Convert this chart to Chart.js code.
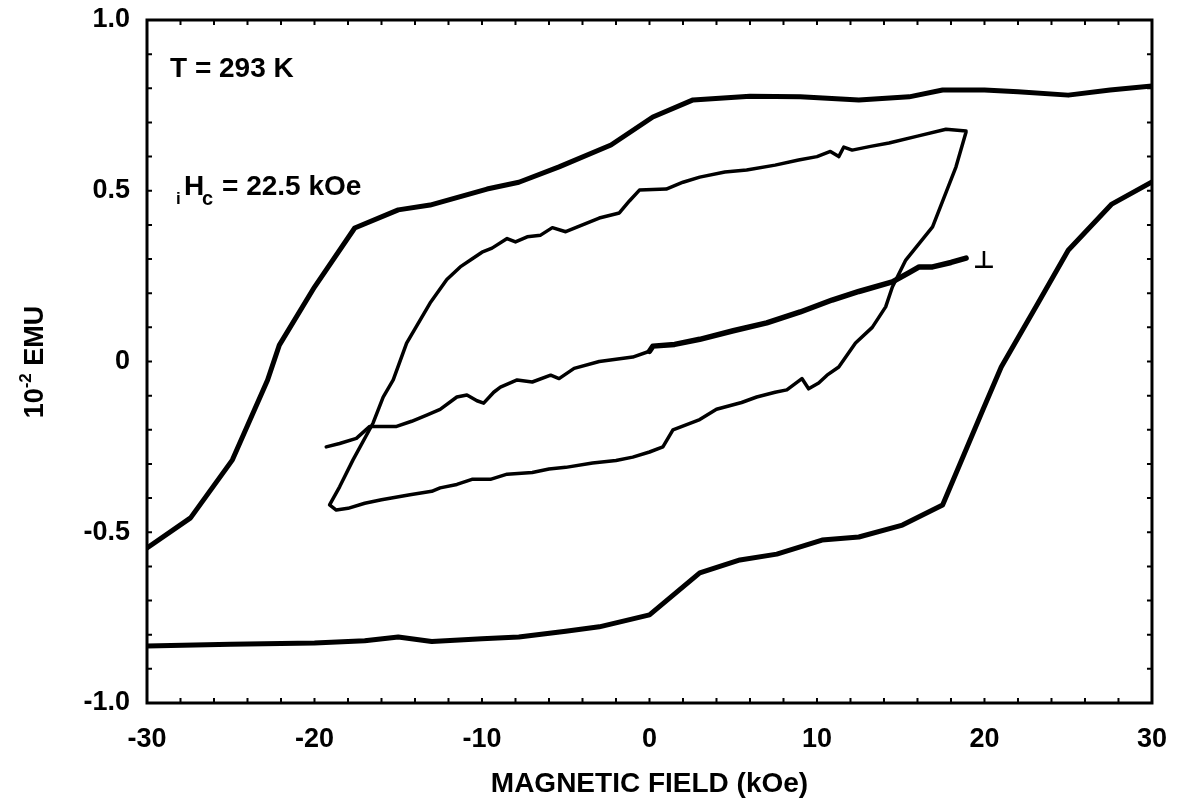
<!DOCTYPE html>
<html>
<head>
    <title>Hysteresis</title>
    <script src="https://cdn.jsdelivr.net/npm/chart.js"></script>
    <style>
        html, body { margin: 0; padding: 0; background: #fff; }
        #wrap { width: 1179px; height: 804px; }
    </style>
</head>
<body>
    <div id="wrap"><canvas id="loopChart" width="1179" height="804"></canvas></div>
    <script>
        // outer loop, descending branch (+30 -> -30)
        const outerDownX = [30, 27.5, 25, 22, 20, 17.5, 15.5, 12.5, 9, 6, 2.6, 0.2, -2.3, -5.4, -7.8, -9.7, -13.1, -15, -17.6, -20, -22.1, -22.8, -24.9, -27.4, -30];
        const outerDownY = [0.807, 0.795, 0.78, 0.79, 0.795, 0.795, 0.775, 0.766, 0.775, 0.777, 0.766, 0.716, 0.634, 0.57, 0.525, 0.505, 0.458, 0.444, 0.391, 0.218, 0.048, -0.054, -0.288, -0.458, -0.546];
        // outer loop, ascending branch (-30 -> +30)
        const outerUpX = [-30, -25, -20, -17, -15, -13, -10, -7.8, -5, -3, 0, 3, 5.4, 7.6, 10.3, 12.5, 15.1, 17.5, 19.9, 21, 23.2, 25, 27.6, 30];
        const outerUpY = [-0.833, -0.828, -0.824, -0.818, -0.807, -0.82, -0.812, -0.807, -0.79, -0.777, -0.742, -0.619, -0.581, -0.564, -0.523, -0.514, -0.479, -0.42, -0.142, -0.016, 0.171, 0.326, 0.461, 0.526];
        // inner loop (parallel field), one pass round
        const innerX = [18.9, 17.7, 16, 14.3, 13.2, 12.1, 11.6, 11.3, 10.8, 10, 8.9, 7.5, 5.8, 4.5, 3, 2, 1, -0.6, -1.2, -1.8, -3, -5, -5.8, -6.5, -7.3, -8, -8.5, -9.4, -10, -10.6, -11.3, -12.1, -13.1, -14.5, -15.3, -15.9, -16.5, -17.7, -18.5, -19.1,
            -18.7, -18, -17, -16, -14.3, -13, -12.5, -11.5, -10.6, -9.5, -8.5, -7, -6, -5, -3.4, -2, -1, 0, 0.8, 1.4, 3, 4, 5.5, 6.4, 7.5, 8.2, 9.1, 9.5, 10.1, 10.6, 11.3, 12.3, 13.3, 14.1, 14.5, 15.3, 16.9, 18.3, 18.9];
        const innerY = [0.675, 0.68, 0.66, 0.64, 0.63, 0.619, 0.628, 0.6, 0.615, 0.6, 0.59, 0.575, 0.561, 0.555, 0.54, 0.525, 0.505, 0.502, 0.47, 0.435, 0.42, 0.38, 0.392, 0.37, 0.365, 0.35, 0.36, 0.332, 0.32, 0.3, 0.277, 0.24, 0.171, 0.054, -0.054, -0.104, -0.18, -0.288, -0.367, -0.42,
            -0.435, -0.43, -0.415, -0.405, -0.39, -0.38, -0.37, -0.36, -0.345, -0.345, -0.33, -0.325, -0.315, -0.31, -0.297, -0.29, -0.28, -0.265, -0.25, -0.2, -0.17, -0.14, -0.12, -0.104, -0.09, -0.083, -0.05, -0.08, -0.063, -0.04, -0.016, 0.054, 0.1, 0.16, 0.218, 0.297, 0.394, 0.57, 0.672];
        // perpendicular sweep: single trace below 0, doubled trace above
        const perpThinX = [-19.3, -18.5, -17.5, -16.7, -15.9, -15.1, -14.2, -13.3, -12.5, -11.5, -10.9, -10.3, -9.9, -9.3, -8.9, -7.9, -7, -5.9, -5.4, -4.5, -3, -1, 0];
        const perpThinY = [-0.25, -0.24, -0.225, -0.19, -0.19, -0.19, -0.175, -0.157, -0.14, -0.104, -0.098, -0.115, -0.122, -0.09, -0.075, -0.054, -0.06, -0.04, -0.05, -0.02, 0, 0.013, 0.03];
        const perpThickX = [0, 0.2, 1.5, 3, 5, 7, 9, 10.9, 12.5, 14.5, 15.5, 16.1, 16.9, 18, 18.9];
        const perpThickY = [0.03, 0.045, 0.05, 0.065, 0.09, 0.113, 0.145, 0.18, 0.205, 0.233, 0.26, 0.277, 0.277, 0.29, 0.303];

        const xTicks = [-30, -20, -10, 0, 10, 20, 30];
        const yTicks = [-1.0, -0.5, 0, 0.5, 1.0];

        const pts = (xs, ys) => xs.map((x, i) => ({ x: x, y: ys[i] }));
        const line = (data, w) => ({
            data: data,
            showLine: true,
            borderColor: '#000',
            borderWidth: w,
            pointRadius: 0,
            tension: 0,
            borderJoinStyle: 'round',
            borderCapStyle: 'round',
            fill: false
        });

        const FAM = '"Liberation Sans", Arial, sans-serif';
        const BOLD = 'bold 28px ' + FAM;

        const framePlugin = {
            id: 'frame',
            afterDatasetsDraw(chart) {
                const { ctx, chartArea: a, scales } = chart;
                ctx.save();
                ctx.strokeStyle = '#000';
                ctx.lineWidth = 3;
                ctx.strokeRect(a.left, a.top, a.right - a.left, a.bottom - a.top);
                ctx.lineWidth = 2;
                ctx.beginPath();
                for (let v = -28; v < 30; v += 2) {
                    const px = scales.x.getPixelForValue(v);
                    ctx.moveTo(px, a.bottom); ctx.lineTo(px, a.bottom - 5);
                    ctx.moveTo(px, a.top); ctx.lineTo(px, a.top + 5);
                }
                for (let k = -9; k < 10; k++) {
                    const py = scales.y.getPixelForValue(k / 10);
                    ctx.moveTo(a.left, py); ctx.lineTo(a.left + 5, py);
                    ctx.moveTo(a.right, py); ctx.lineTo(a.right - 5, py);
                }
                ctx.stroke();

                // annotations
                ctx.fillStyle = '#000';
                ctx.textBaseline = 'alphabetic';
                ctx.textAlign = 'left';
                ctx.font = BOLD;
                ctx.fillText('T = 293 K', 170, 77);
                ctx.font = 'bold 17px ' + FAM;
                ctx.fillText('i', 176, 204);
                ctx.font = BOLD;
                ctx.fillText('H', 184, 195);
                ctx.font = 'bold 20px ' + FAM;
                ctx.fillText('c', 202, 205);
                ctx.font = BOLD;
                ctx.fillText('= 22.5 kOe', 222, 195);

                // perpendicular label
                const lx = scales.x.getPixelForValue(perpThickX[perpThickX.length - 1]);
                const ly = scales.y.getPixelForValue(perpThickY[perpThickY.length - 1]);
                ctx.font = 'bold 24px "DejaVu Sans", sans-serif';
                ctx.fillText('\u22A5', lx + 7, ly + 10);

                // y axis title with superscript
                ctx.translate(43, 362);
                ctx.rotate(-Math.PI / 2);
                ctx.font = 'bold 27px ' + FAM;
                const w1 = ctx.measureText('10').width;
                ctx.font = 'bold 17px ' + FAM;
                const w2 = ctx.measureText('-2').width;
                ctx.font = 'bold 27px ' + FAM;
                const w3 = ctx.measureText(' EMU').width;
                let sx = -(w1 + w2 + w3) / 2;
                ctx.fillText('10', sx, 0);
                sx += w1;
                ctx.font = 'bold 17px ' + FAM;
                ctx.fillText('-2', sx, -12);
                sx += w2;
                ctx.font = 'bold 27px ' + FAM;
                ctx.fillText(' EMU', sx, 0);
                ctx.restore();
            }
        };

        new Chart(document.getElementById('loopChart'), {
            type: 'scatter',
            data: {
                datasets: [
                    line(pts(outerDownX, outerDownY), 5),
                    line(pts(outerUpX, outerUpY), 5),
                    line(pts(innerX, innerY), 3.5),
                    line(pts(perpThinX, perpThinY), 3.5),
                    line(pts(perpThickX, perpThickY), 5.5)
                ]
            },
            options: {
                responsive: false,
                animation: false,
                layout: { padding: { top: 20, right: 26, left: 0, bottom: 0 } },
                plugins: { legend: { display: false }, tooltip: { enabled: false } },
                scales: {
                    x: {
                        type: 'linear',
                        min: -30,
                        max: 30,
                        afterBuildTicks: s => { s.ticks = xTicks.map(v => ({ value: v })); },
                        afterFit: s => { s.height = 101; },
                        grid: { display: false },
                        border: { display: false },
                        ticks: {
                            color: '#000',
                            padding: 12,
                            maxRotation: 0,
                            font: { family: FAM, size: 27, weight: 'bold' }
                        },
                        title: {
                            display: true,
                            text: 'MAGNETIC FIELD (kOe)',
                            color: '#000',
                            padding: { top: 0, bottom: 3 },
                            font: { family: FAM, size: 28, weight: 'bold' }
                        }
                    },
                    y: {
                        type: 'linear',
                        min: -1,
                        max: 1,
                        afterBuildTicks: s => { s.ticks = yTicks.map(v => ({ value: v })); },
                        afterFit: s => { s.width = 147; s.paddingTop = 0; s.paddingBottom = 0; },
                        grid: { display: false },
                        border: { display: false },
                        ticks: {
                            color: '#000',
                            padding: 9,
                            callback: v => (v === 0 ? '0' : v.toFixed(1)),
                            font: { family: FAM, size: 27, weight: 'bold', lineHeight: 0.7 }
                        }
                    }
                }
            },
            plugins: [framePlugin]
        });
    </script>
</body>
</html>
